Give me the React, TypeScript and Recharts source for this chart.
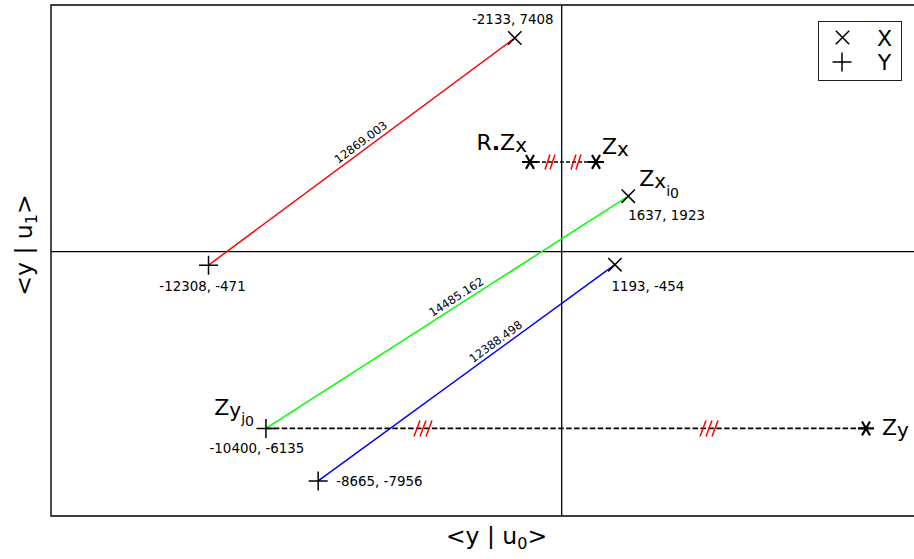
import {
  Legend,
  ReferenceArea,
  ReferenceDot,
  ReferenceLine,
  Scatter,
  ScatterChart,
  XAxis,
  YAxis,
} from 'recharts';

const FONT = "'DejaVu Sans', sans-serif";

// axis ranges (data units)
const xDomain: [number, number] = [-17541, 12060];
const yDomain: [number, number] = [-9171, 8553];

// series "X" (x markers) and "Y" (+ markers), paired by index
const xSeries = [
  { x: -2133, y: 7408 },
  { x: 1637, y: 1923 },
  { x: 1193, y: -454 },
];
const ySeries = [
  { x: -12308, y: -471 },
  { x: -10400, y: -6135 },
  { x: -8665, y: -7956 },
];
const pairDistances = ['12869.003', '14485.162', '12388.498'];
const pairColors = ['#ff0000', '#00ff00', '#0000ff'];
// how far past the midpoint each distance text sits, px along the line
const distanceShift = [5, 16, 42];

// R.Zx, Zx, Zy
const zPoints = [
  { x: -1628, y: 3108 },
  { x: 565, y: 3108 },
  { x: 9535, y: -6135 },
];
const mirrorX = -575;
const doubleMarks = [-963, -100];
const tripleMarks = [-5183, 4319];

const legendNames = ['X', 'Y'];

type Anchor = 'start' | 'middle' | 'end';
type Part = [string, number, number, boolean?];

const xLabelPos: { dx: number; dy: number; anchor: Anchor }[] = [
  { dx: -2, dy: -14, anchor: 'middle' },
  { dx: 0, dy: 24, anchor: 'start' },
  { dx: -3.5, dy: 26, anchor: 'start' },
];
const yLabelPos: { dx: number; dy: number; anchor: Anchor }[] = [
  { dx: -6, dy: 26, anchor: 'middle' },
  { dx: -9, dy: 25, anchor: 'middle' },
  { dx: 18, dy: 5, anchor: 'start' },
];

const namedLabels: { at: { x: number; y: number }; dx: number; dy: number; anchor: Anchor; parts: Part[] }[] = [
  { at: zPoints[0], dx: -3, dy: -12, anchor: 'end', parts: [['R', 22, 0], ['.', 22, 0, true], ['Z', 22, 0], ['x', 20, 2]] },
  { at: zPoints[1], dx: 6, dy: -8, anchor: 'start', parts: [['Z', 22, 0], ['x', 20, 2]] },
  { at: zPoints[2], dx: 16, dy: 7, anchor: 'start', parts: [['Z', 22, 0], ['y', 20, 2]] },
  { at: xSeries[1], dx: 11, dy: -10, anchor: 'start', parts: [['Z', 22, 0], ['x', 20, 2], ['i', 14, 10], ['0', 14, 12]] },
  { at: ySeries[1], dx: -12, dy: -13, anchor: 'end', parts: [['Z', 22, 0], ['y', 20, 2], ['j', 14, 8], ['0', 14, 11]] },
];

function RichText({ x, y, anchor, parts, transform }: { x: number; y: number; anchor: Anchor; parts: Part[]; transform?: string }) {
  let prev = 0;
  return (
    <text x={x} y={y} textAnchor={anchor} fontFamily={FONT} fill="#000" transform={transform}>
      {parts.map(([t, fs, shift, bold], i) => {
        const dy = shift - prev;
        prev = shift;
        return (
          <tspan key={i} dy={dy} fontSize={fs} fontWeight={bold ? 'bold' : undefined}>
            {t}
          </tspan>
        );
      })}
    </text>
  );
}

function CrossMark({ cx, cy }: any) {
  const r = 6.7;
  return (
    <path
      d={`M${cx - r},${cy - r}L${cx + r},${cy + r}M${cx - r},${cy + r}L${cx + r},${cy - r}`}
      stroke="#000"
      strokeWidth={1.5}
      fill="none"
    />
  );
}

function PlusMark({ cx, cy }: any) {
  const r = 9.5;
  return <path d={`M${cx - r},${cy}L${cx + r},${cy}M${cx},${cy - r}L${cx},${cy + r}`} stroke="#000" strokeWidth={1.5} fill="none" />;
}

function StarMark({ cx, cy }: any) {
  const r = 8;
  const a = r * 0.5;
  const b = r * 0.866;
  return (
    <path
      d={`M${cx - r},${cy}L${cx + r},${cy}M${cx - a},${cy - b}L${cx + a},${cy + b}M${cx - a},${cy + b}L${cx + a},${cy - b}`}
      stroke="#000"
      strokeWidth={2.2}
      fill="none"
    />
  );
}

function hatch(n: number, gap: number, w: number, h: number) {
  return ({ cx, cy }: any) => {
    const start = cx - ((n - 1) * gap) / 2;
    let d = '';
    for (let i = 0; i < n; i++) {
      const c = start + i * gap;
      d += `M${c - w / 2},${cy + h / 2}L${c + w / 2},${cy - h / 2}`;
    }
    return <path d={d} stroke="#ff0000" strokeWidth={1.5} fill="none" />;
  };
}

function segmentLabel(text: string, shift: number) {
  return (props: any) => {
    const vb = props.viewBox ?? props;
    const rad = Math.atan2(vb.height, vb.width);
    const cx = vb.x + vb.width / 2 + shift * Math.cos(rad);
    const cy = vb.y + vb.height / 2 - shift * Math.sin(rad);
    const angle = (-rad * 180) / Math.PI;
    return (
      <text
        x={cx}
        y={cy - 4}
        textAnchor="middle"
        fontFamily={FONT}
        fontSize={11.5}
        fill="#000"
        transform={`rotate(${angle}, ${cx}, ${cy})`}
      >
        {text}
      </text>
    );
  };
}

function XTitle(props: any) {
  const vb = props.viewBox;
  return (
    <RichText
      x={vb.x + vb.width / 2}
      y={vb.y + 28}
      anchor="middle"
      parts={[['<y | u', 23.5, 0], ['0', 16, 5], ['>', 23.5, 0]]}
    />
  );
}

function YTitle() {
  return (
    <RichText
      x={32}
      y={245}
      anchor="middle"
      transform="rotate(-90, 32, 245)"
      parts={[['<y | u', 23.5, 0], ['1', 16, 5], ['>', 23.5, 0]]}
    />
  );
}

function LegendBox(props: any) {
  const payload = ((props.payload ?? []) as any[]).filter((e) => legendNames.includes(e.value));
  return (
    <svg width={85} height={61} style={{ display: 'block' }}>
      <rect x={0.5} y={0.5} width={83} height={59} fill="#fff" stroke="#222" strokeWidth={1} />
      {payload.map((entry, i) => {
        const cy = 16.5 + i * 24.5;
        return (
          <g key={entry.value}>
            {entry.value === 'X' ? <CrossMark cx={24.5} cy={cy} /> : <PlusMark cx={24} cy={cy} />}
            <text x={66.5} y={cy + 8} textAnchor="middle" fontFamily={FONT} fontSize={22} fill="#000">
              {entry.value}
            </text>
          </g>
        );
      })}
    </svg>
  );
}

export default function App() {
  return (
    <div style={{ width: 914, height: 559, overflow: 'hidden', position: 'relative', background: '#fff' }}>
      <style>{'body{margin:0}'}</style>
      <ScatterChart width={960} height={559} margin={{ top: 5, right: 18, bottom: 0, left: 0 }}>
        <XAxis
          type="number"
          dataKey="x"
          domain={xDomain}
          tick={false}
          tickLine={false}
          axisLine={false}
          height={43}
          label={XTitle}
        />
        <YAxis
          type="number"
          dataKey="y"
          domain={yDomain}
          tick={false}
          tickLine={false}
          axisLine={false}
          width={51}
          label={YTitle}
        />
        <ReferenceArea
          x1={xDomain[0]}
          x2={xDomain[1]}
          y1={yDomain[0]}
          y2={yDomain[1]}
          fill="none"
          fillOpacity={0}
          stroke="#000"
          strokeWidth={1.4}
        />
        <ReferenceLine y={0} stroke="#000" strokeWidth={1.3} />
        <ReferenceLine x={mirrorX} stroke="#000" strokeWidth={1.3} />

        {ySeries.map((p, i) => (
          <ReferenceLine
            key={`seg${i}`}
            segment={[p, xSeries[i]]}
            stroke={pairColors[i]}
            strokeWidth={1.5}
            label={segmentLabel(pairDistances[i], distanceShift[i])}
          />
        ))}
        <ReferenceLine segment={[ySeries[1], zPoints[2]]} stroke="#000" strokeWidth={1.8} strokeDasharray="5.5 2.4" />
        <ReferenceLine segment={[zPoints[0], zPoints[1]]} stroke="#000" strokeWidth={1.5} strokeDasharray="4 2" />

        {tripleMarks.map((x) => (
          <ReferenceDot key={`m3${x}`} x={x} y={zPoints[2].y} r={8} shape={hatch(3, 6, 6, 16)} />
        ))}
        {doubleMarks.map((x) => (
          <ReferenceDot key={`m2${x}`} x={x} y={zPoints[0].y} r={8} shape={hatch(2, 5, 5, 15)} />
        ))}

        <Scatter name="X" data={xSeries} shape={CrossMark} isAnimationActive={false} />
        <Scatter name="Y" data={ySeries} shape={PlusMark} isAnimationActive={false} />
        <Scatter name="Z" data={zPoints} shape={StarMark} legendType="none" isAnimationActive={false} />

        {xSeries.map((p, i) => (
          <ReferenceDot
            key={`xl${i}`}
            x={p.x}
            y={p.y}
            r={1}
            shape={({ cx, cy }: any) => (
              <text x={cx + xLabelPos[i].dx} y={cy + xLabelPos[i].dy} textAnchor={xLabelPos[i].anchor} fontFamily={FONT} fontSize={13.4} fill="#000">
                {`${p.x}, ${p.y}`}
              </text>
            )}
          />
        ))}
        {ySeries.map((p, i) => (
          <ReferenceDot
            key={`yl${i}`}
            x={p.x}
            y={p.y}
            r={1}
            shape={({ cx, cy }: any) => (
              <text x={cx + yLabelPos[i].dx} y={cy + yLabelPos[i].dy} textAnchor={yLabelPos[i].anchor} fontFamily={FONT} fontSize={13.4} fill="#000">
                {`${p.x}, ${p.y}`}
              </text>
            )}
          />
        ))}
        {namedLabels.map((l, i) => (
          <ReferenceDot
            key={`nl${i}`}
            x={l.at.x}
            y={l.at.y}
            r={1}
            shape={({ cx, cy }: any) => <RichText x={cx + l.dx} y={cy + l.dy} anchor={l.anchor} parts={l.parts} />}
          />
        ))}

        <Legend
          layout="horizontal"
          align="center"
          verticalAlign="middle"
          width={85}
          height={61}
          wrapperStyle={{ left: 818, top: 21, width: 85, height: 61 }}
          content={LegendBox}
        />
      </ScatterChart>
    </div>
  );
}
